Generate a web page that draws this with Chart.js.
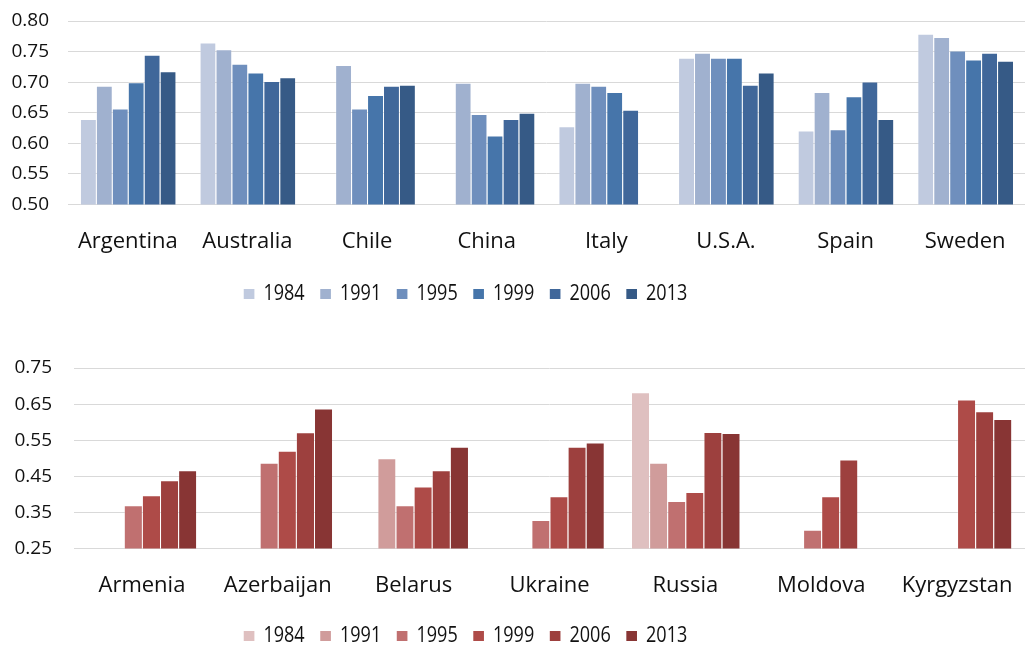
<!DOCTYPE html>
<html>
<head>
<meta charset="utf-8">
<script src="https://cdn.jsdelivr.net/npm/chart.js@4.4.1/dist/chart.umd.min.js"></script>
<style>
  html, body { margin: 0; padding: 0; background: #ffffff; }
  #wrap { position: relative; width: 1025px; height: 646px; overflow: hidden; }
  #c1 { position: absolute; left: 0; top: 0; }
  #c2 { position: absolute; left: 0; top: 320px; }
</style>
</head>
<body>
<div id="wrap">
  <canvas id="c1" width="1025" height="315"></canvas>
  <canvas id="c2" width="1025" height="337"></canvas>
</div>
<script>
// ---------- data ----------
const years = ['1984', '1991', '1995', '1999', '2006', '2013'];

const topCountries = ['Argentina', 'Australia', 'Chile', 'China', 'Italy', 'U.S.A.', 'Spain', 'Sweden'];
const top1984 = [0.640, 0.765, null, null, 0.628, 0.740, 0.621, 0.779];
const top1991 = [0.694, 0.754, 0.728, 0.699, 0.699, 0.748, 0.684, 0.774];
const top1995 = [0.657, 0.730, 0.657, 0.648, 0.694, 0.740, 0.623, 0.752];
const top1999 = [0.700, 0.716, 0.679, 0.613, 0.684, 0.740, 0.677, 0.737];
const top2006 = [0.745, 0.702, 0.694, 0.640, 0.655, 0.696, 0.701, 0.748];
const top2013 = [0.718, 0.708, 0.696, 0.650, null, 0.716, 0.640, 0.735];
const topTicks = { min: 0.50, max: 0.80, step: 0.05 };

const botCountries = ['Armenia', 'Azerbaijan', 'Belarus', 'Ukraine', 'Russia', 'Moldova', 'Kyrgyzstan'];
const bot1984 = [null, null, null, null, 0.683, null, null];
const bot1991 = [null, null, 0.500, null, 0.488, null, null];
const bot1995 = [0.370, 0.488, 0.370, 0.329, 0.382, 0.302, null];
const bot1999 = [0.398, 0.521, 0.422, 0.395, 0.407, 0.395, 0.663];
const bot2006 = [0.439, 0.572, 0.467, 0.532, 0.573, 0.497, 0.630];
const bot2013 = [0.467, 0.638, 0.532, 0.544, 0.570, null, 0.609];
const botTicks = { min: 0.25, max: 0.75, step: 0.10 };

// ---------- styles ----------
const blues = ['#c0cadf', '#a0b1cf', '#6f8fbd', '#4675aa', '#40679a', '#365a86'];
const reds  = ['#dfc0c0', '#d09c9b', '#c07070', '#ae4b48', '#9d403e', '#883534'];
const TEXT = '#111111';
const GRID = '#d9d9d9';
const AXIS_FONT = "'Open Sans', 'Liberation Sans', sans-serif";
const LEGEND_FONT = "'Open Sans', 'Liberation Sans', sans-serif";

// shifts the legend horizontally and compresses it (narrow legend font look)
const legendTweak = {
  id: 'legendTweak',
  afterLayout(chart, args, opts) {
    const l = chart.legend;
    if (!l) return;
    l.left += opts.dx || 0;
    l.right += opts.dx || 0;
    if (!l._wrapped) {
      const orig = l.draw.bind(l);
      l.draw = function () {
        const ctx = chart.ctx;
        const cx = (l.left + l.right) / 2;
        ctx.save();
        ctx.translate(cx, 0);
        ctx.scale(opts.sx || 1, 1);
        ctx.translate(-cx, 0);
        orig();
        ctx.restore();
      };
      l._wrapped = true;
    }
  }
};

function zeroPad(scale) {
  scale.paddingTop = 0; scale.paddingBottom = 0; scale.paddingLeft = 0; scale.paddingRight = 0;
}

function makeDatasets(series, colors) {
  return series.map((vals, i) => ({
    label: years[i],
    data: vals,
    backgroundColor: colors[i],
    borderColor: 'rgba(255,255,255,0.3)',
    borderWidth: { top: 1, left: 1, right: 0, bottom: 0 },
    borderSkipped: 'bottom',
    categoryPercentage: 0.8,
    barPercentage: 1.0
  }));
}

function makeChart(canvas, labels, series, colors, ticks, cfg) {
  return new Chart(canvas, {
    type: 'bar',
    data: { labels: labels, datasets: makeDatasets(series, colors) },
    plugins: [legendTweak],
    options: {
      responsive: false,
      animation: false,
      layout: { autoPadding: false, padding: { top: cfg.padTop, right: 0, bottom: 0, left: 0 } },
      plugins: {
        tooltip: { enabled: false },
        legendTweak: { dx: cfg.legendDx, sx: 0.82 },
        legend: {
          position: 'bottom',
          align: 'center',
          labels: {
            color: TEXT,
            font: { family: LEGEND_FONT, size: 22 },
            boxWidth: 13,
            boxHeight: 10,
            padding: 19,
            generateLabels(chart) {
              return chart.data.datasets.map((ds, i) => ({
                text: ds.label,
                fillStyle: ds.backgroundColor,
                strokeStyle: ds.backgroundColor,
                lineWidth: 0,
                hidden: false,
                datasetIndex: i,
                fontColor: TEXT
              }));
            }
          }
        }
      },
      scales: {
        x: {
          grid: { display: false, drawTicks: false },
          border: { display: true, color: GRID, width: 1 },
          afterFit(scale) { scale.height += cfg.xAdj; zeroPad(scale); },
          ticks: {
            color: TEXT,
            font: { family: AXIS_FONT, size: 22 },
            padding: cfg.xPad,
            maxRotation: 0,
            autoSkip: false
          }
        },
        y: {
          min: ticks.min,
          max: ticks.max,
          afterFit(scale) { scale.width = cfg.yWidth; zeroPad(scale); },
          afterBuildTicks(scale) {
            const arr = [];
            const n = Math.round((ticks.max - ticks.min) / ticks.step);
            for (let k = 0; k <= n; k++) arr.push({ value: +(ticks.min + k * ticks.step).toFixed(4) });
            scale.ticks = arr;
          },
          grid: { color: GRID, lineWidth: 1, drawTicks: false },
          border: { display: false },
          ticks: {
            color: TEXT,
            font: { family: AXIS_FONT, size: 19 },
            padding: cfg.yPad,
            callback: (v) => Number(v).toFixed(2)
          }
        }
      }
    }
  });
}

makeChart(document.getElementById('c1'), topCountries,
  [top1984, top1991, top1995, top1999, top2006, top2013], blues, topTicks,
  { padTop: 21, legendDx: -47, xPad: 24, xAdj: -15, yWidth: 68, yPad: 19 });

makeChart(document.getElementById('c2'), botCountries,
  [bot1984, bot1991, bot1995, bot1999, bot2006, bot2013], reds, botTicks,
  { padTop: 48, legendDx: -47, xPad: 24, xAdj: -17, yWidth: 74, yPad: 22 });
</script>
</body>
</html>
